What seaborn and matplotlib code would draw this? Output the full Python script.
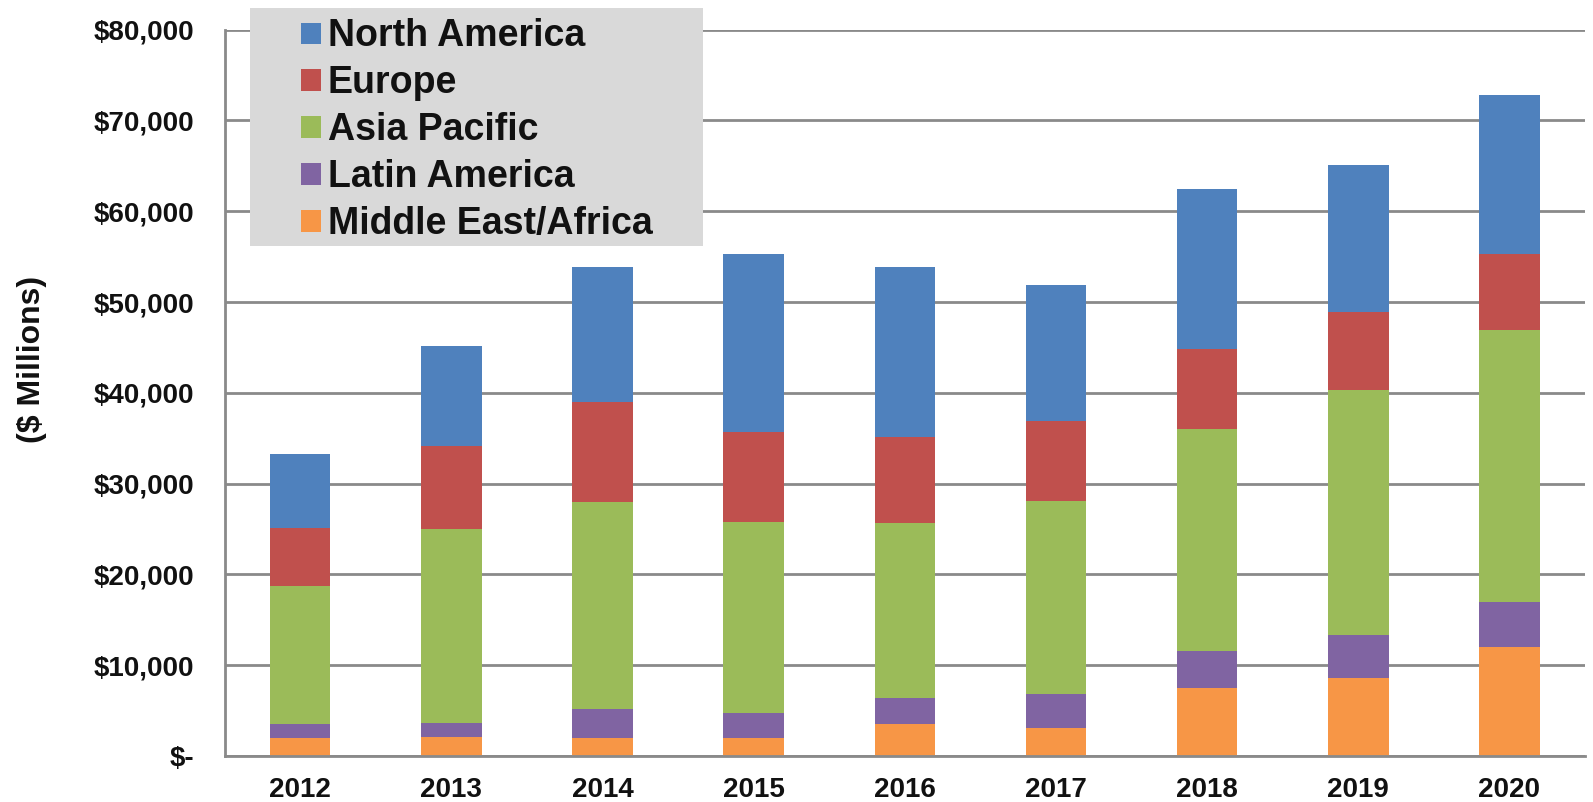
import matplotlib
matplotlib.use("Agg")
import matplotlib.pyplot as plt
import seaborn as sns
import numpy as np
from matplotlib.patches import Patch, Rectangle
from matplotlib.ticker import FuncFormatter, MultipleLocator, FixedLocator

years = ["2012", "2013", "2014", "2015", "2016", "2017", "2018", "2019", "2020"]
middle_east_africa = [1940, 2050, 1940, 2000, 3570, 3100, 7500, 8600, 12050]
latin_america = [1560, 1550, 3260, 2700, 2830, 3700, 4050, 4700, 4950]
asia_pacific = [15200, 21400, 22800, 21100, 19300, 21300, 24450, 27000, 29900]
europe = [6400, 9100, 11000, 9900, 9400, 8800, 8800, 8600, 8400]
north_america = [8160, 11100, 14900, 19600, 18800, 15000, 17600, 16200, 17500]

series = [
    ("Middle East/Africa", middle_east_africa, "#F79646"),
    ("Latin America", latin_america, "#8064A2"),
    ("Asia Pacific", asia_pacific, "#9BBB59"),
    ("Europe", europe, "#C0504D"),
    ("North America", north_america, "#4F81BD"),
]

sns.set_style("white")
plt.rcParams['font.family'] = ['Liberation Sans', 'DejaVu Sans']
plt.rcParams['font.weight'] = 'bold'

W, H = 1593, 802
fig = plt.figure(figsize=(W / 100, H / 100), dpi=100)
ax = fig.add_axes([0.141, 0.0574, 0.854, 0.9056])

bottom = np.zeros(len(years))
for name, vals, color in series:
    sns.barplot(x=years, y=vals, bottom=bottom, color=color, width=0.4,
                ax=ax, saturation=1, linewidth=0)
    bottom = bottom + np.array(vals)

ax.set_xlim(-0.5, 8.5)
ax.set_ylim(0, 80000)
ax.yaxis.set_major_locator(MultipleLocator(10000))
ax.yaxis.set_major_formatter(FuncFormatter(lambda v, p: "$-" if v == 0 else f"${v:,.0f}"))
ax.grid(axis="y", color="#8a8a8a", linewidth=2)
ax.set_axisbelow(True)

for s in ["top", "right"]:
    ax.spines[s].set_visible(False)
for s in ["left", "bottom"]:
    ax.spines[s].set_color("#8a8a8a")
    ax.spines[s].set_linewidth(2)

ax.xaxis.set_minor_locator(FixedLocator(np.arange(-0.5, 9, 1)))
ax.tick_params(axis="x", which="major", length=0, labelsize=20, pad=15)
ax.tick_params(axis="x", which="minor", length=7, width=1.5, color="#8a8a8a", direction="out")
ax.tick_params(axis="y", which="major", length=8, width=2, color="#8a8a8a", direction="out",
               labelsize=20, pad=14)
for lbl in ax.get_xticklabels() + ax.get_yticklabels():
    lbl.set_fontweight("bold")
    lbl.set_color("#111111")

ax.set_xlabel("")
ax.set_ylabel("")
fig.text(32 / W, 1 - 359 / H, "($ Millions)", rotation=90, ha="center", va="center",
         fontsize=23, fontweight="bold", color="#111111")

# legend background box
fig.patches.append(Rectangle((250 / W, 1 - 246 / H), (703 - 250) / W, (246 - 8) / H,
                             transform=fig.transFigure, facecolor="#d9d9d9",
                             edgecolor="none", zorder=4))

handles = [Patch(facecolor=c, edgecolor="none", label=n) for n, v, c in series[::-1]]
leg = fig.legend(handles=handles, loc="upper left", bbox_to_anchor=(301 / W, 1 - 18.5 / H),
                 frameon=False, prop={"size": 27, "weight": "bold"},
                 handlelength=0.54, handleheight=0.5, handletextpad=0.18,
                 labelspacing=0.293, borderpad=0, borderaxespad=0)
leg.set_zorder(5)
for t in leg.get_texts():
    t.set_color("#111111")

fig.savefig("out.png", dpi=100)
